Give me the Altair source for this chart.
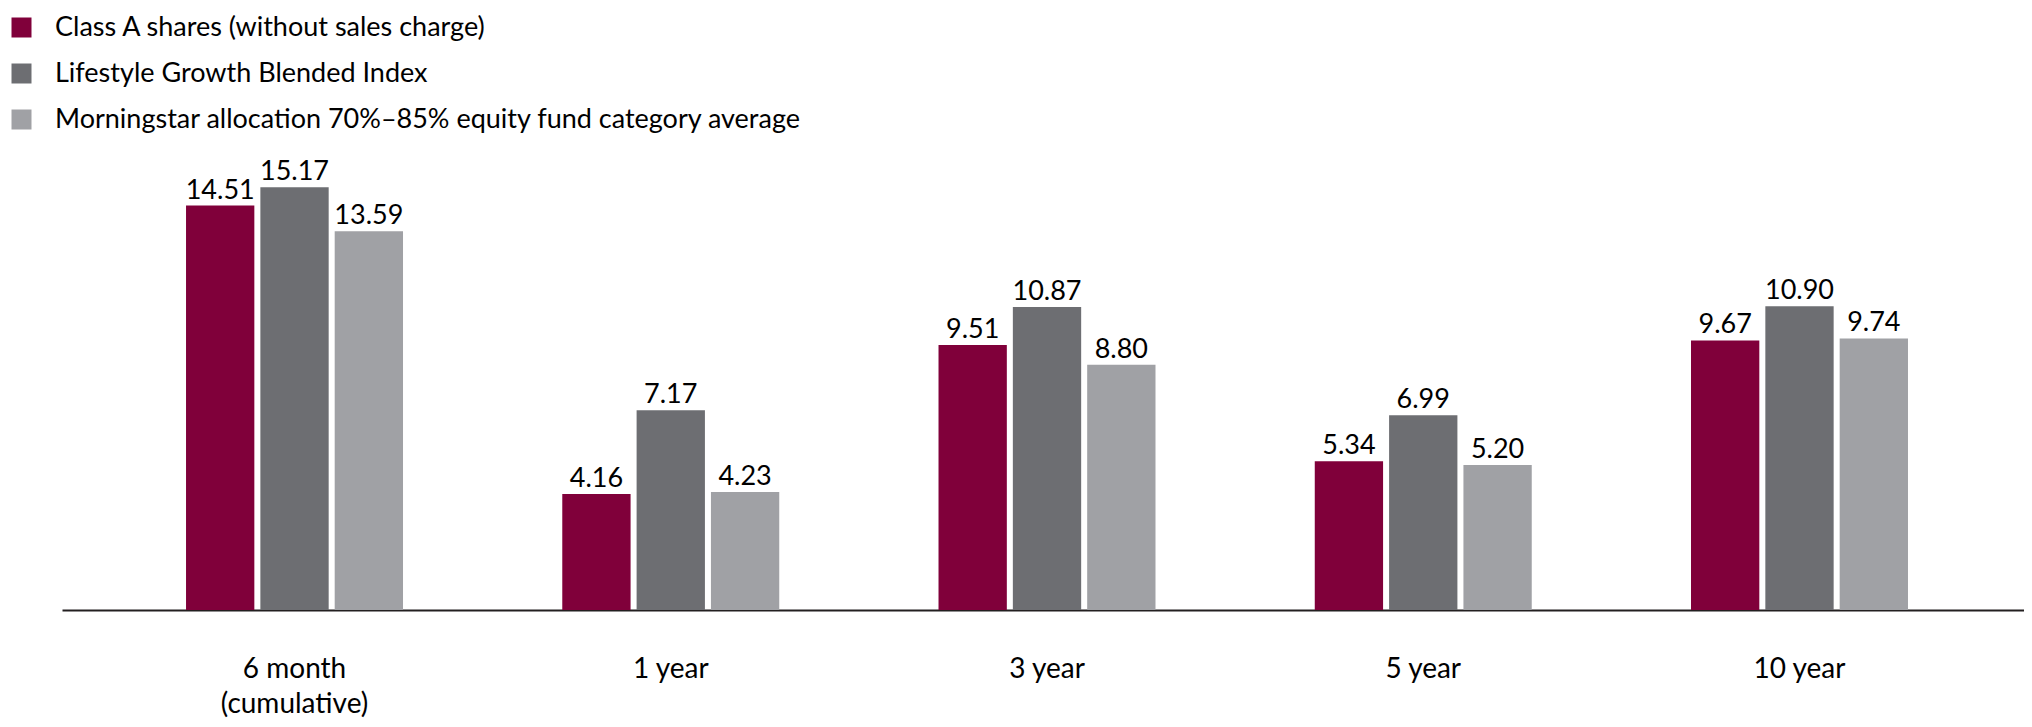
import altair as alt
import pandas as pd

categories = ["6 month|(cumulative)", "1 year", "3 year", "5 year", "10 year"]
series = [
    "Class A shares (without sales charge)",
    "Lifestyle Growth Blended Index",
    "Morningstar allocation 70%–85% equity fund category average",
]
class_a = [14.51, 4.16, 9.51, 5.34, 9.67]
blended = [15.17, 7.17, 10.87, 6.99, 10.90]
morningstar = [13.59, 4.23, 8.80, 5.20, 9.74]
colors = ["#80003A", "#6D6E72", "#A0A1A5"]

rows = []
for s, vals in zip(series, [class_a, blended, morningstar]):
    for c, v in zip(categories, vals):
        rows.append({"period": c, "series": s, "value": v})
df = pd.DataFrame(rows)

FONT = "Lato"

x = alt.X(
    "period:N",
    sort=categories,
    title=None,
    scale=alt.Scale(paddingInner=0.4233, paddingOuter=0.319, align=0.5167),
    axis=alt.Axis(
        labelExpr="split(datum.label, '|')",
        labelAngle=0,
        labelFont=FONT,
        labelFontSize=28,
        labelLineHeight=35,
        labelColor="#000000",
        labelBaseline="top",
        labelPadding=45,
        ticks=False,
        grid=False,
        domainColor="#231F20",
        domainWidth=2,
    ),
)
xo = alt.XOffset("series:N", sort=series, scale=alt.Scale(paddingInner=0.081, paddingOuter=0))
y = alt.Y("value:Q", scale=alt.Scale(domain=[0, 16], nice=False), axis=None)

bars = alt.Chart(df).mark_bar().encode(
    x=x,
    xOffset=xo,
    y=y,
    color=alt.Color(
        "series:N",
        sort=series,
        scale=alt.Scale(domain=series, range=colors),
        legend=alt.Legend(
            orient="none",
            legendX=-54,
            legendY=-150,
            title=None,
            symbolType="square",
            symbolSize=400,
            symbolStrokeWidth=0,
            labelFont=FONT,
            labelFontSize=27,
            labelColor="#000000",
            labelLimit=1200,
            labelOffset=20,
            rowPadding=18,
        ),
    ),
)

labels = alt.Chart(df).mark_text(
    baseline="alphabetic", dy=-7, fontSize=27, font=FONT, color="#000000"
).encode(
    x=x,
    xOffset=xo,
    y=y,
    text=alt.Text("value:Q", format=".2f"),
)

chart = (
    alt.layer(bars, labels)
    .properties(
        width=1962,
        height=446,
        padding={"left": 54, "top": 156, "right": 0, "bottom": 109},
        autosize=alt.AutoSizeParams(type="none"),
        background="white",
    )
    .configure_view(strokeWidth=0, stroke=None)
)

chart.save("out.html", embed_options={"renderer": "svg", "actions": False})
